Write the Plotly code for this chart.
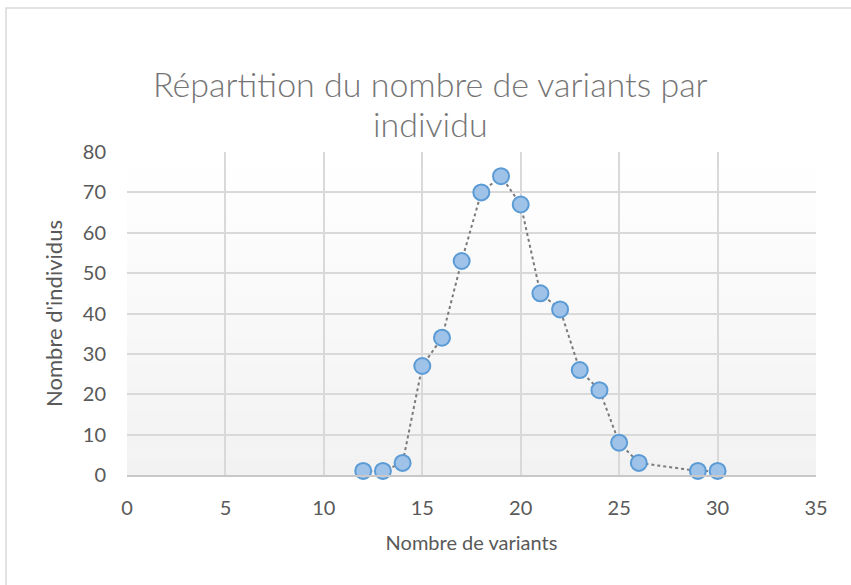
import plotly.graph_objects as go

variants = [12, 13, 14, 15, 16, 17, 18, 19, 20, 21, 22, 23, 24, 25, 26, 29, 30]
individus = [1, 1, 3, 27, 34, 53, 70, 74, 67, 45, 41, 26, 21, 8, 3, 1, 1]
x_range = [0, 35]
y_range = [0, 80]
x_ticks = [0, 5, 10, 15, 20, 25, 30, 35]
y_ticks = [0, 10, 20, 30, 40, 50, 60, 70, 80]
title_lines = ["Répartition du nombre de variants par", "individu"]

FONT = "Lato"

# vertical gradient of the plot area (white at top -> light grey at bottom), as strips
n_strips = 40
shapes = []
for i in range(n_strips):
    t = i / (n_strips - 1)
    v = round(242 + (255 - 242) * t)
    shapes.append(dict(type="rect", xref="paper", yref="paper",
                       x0=0, x1=1, y0=i / n_strips, y1=(i + 1) / n_strips + 0.002,
                       line=dict(width=0), fillcolor=f"rgb({v},{v},{v})", layer="below"))
# outer chart frame
shapes.append(dict(type="rect", xref="paper", yref="paper",
                   x0=-0.1756, x1=1.08, y0=-0.45, y1=1.4458,
                   line=dict(color="#d9d9d9", width=1.5), fillcolor="rgba(0,0,0,0)", layer="below"))

# two-line chart title as annotations (controls line spacing)
title_font = dict(family=FONT, size=34, color="#757575", weight=300)
annotations = [
    dict(text=title_lines[0], xref="paper", yref="paper", x=0.441, y=1.2136,
         xanchor="center", yanchor="middle", showarrow=False, font=title_font),
    dict(text=title_lines[1], xref="paper", yref="paper", x=0.441, y=1.0867,
         xanchor="center", yanchor="middle", showarrow=False, font=title_font),
]

fig = go.Figure()
fig.add_trace(go.Scatter(
    x=variants, y=individus, mode="lines+markers",
    line=dict(color="#7a7a7a", width=2, dash="dot"),
    marker=dict(size=16, color="#9fc2e8", line=dict(color="#5b9bd5", width=2)),
    showlegend=False, cliponaxis=False,
))

fig.update_layout(
    width=851, height=585,
    margin=dict(l=127, r=35, t=152, b=110),
    paper_bgcolor="white", plot_bgcolor="rgba(0,0,0,0)",
    font=dict(family=FONT, color="#595959"),
    shapes=shapes,
    annotations=annotations,
)

fig.update_xaxes(
    range=x_range, tickvals=x_ticks, showgrid=True, gridcolor="#d9d9d9", gridwidth=2,
    zeroline=False, showline=True, linecolor="#c8c8c8", linewidth=2,
    ticks="", tickfont=dict(size=20, color="#595959"), ticklabelstandoff=14,
    title=dict(text="Nombre de variants", font=dict(size=20, color="#595959"), standoff=18),
)
fig.update_yaxes(
    range=y_range, tickvals=y_ticks, showgrid=True, gridcolor="#d9d9d9", gridwidth=2,
    zeroline=False, showline=False,
    ticks="", tickfont=dict(size=20, color="#595959"), ticklabelstandoff=20,
    title=dict(text="Nombre d'individus", font=dict(size=22, color="#595959"), standoff=14),
)

fig.write_html("out.html", post_script="document.body.style.margin='0px';",
               config={"displayModeBar": False})
